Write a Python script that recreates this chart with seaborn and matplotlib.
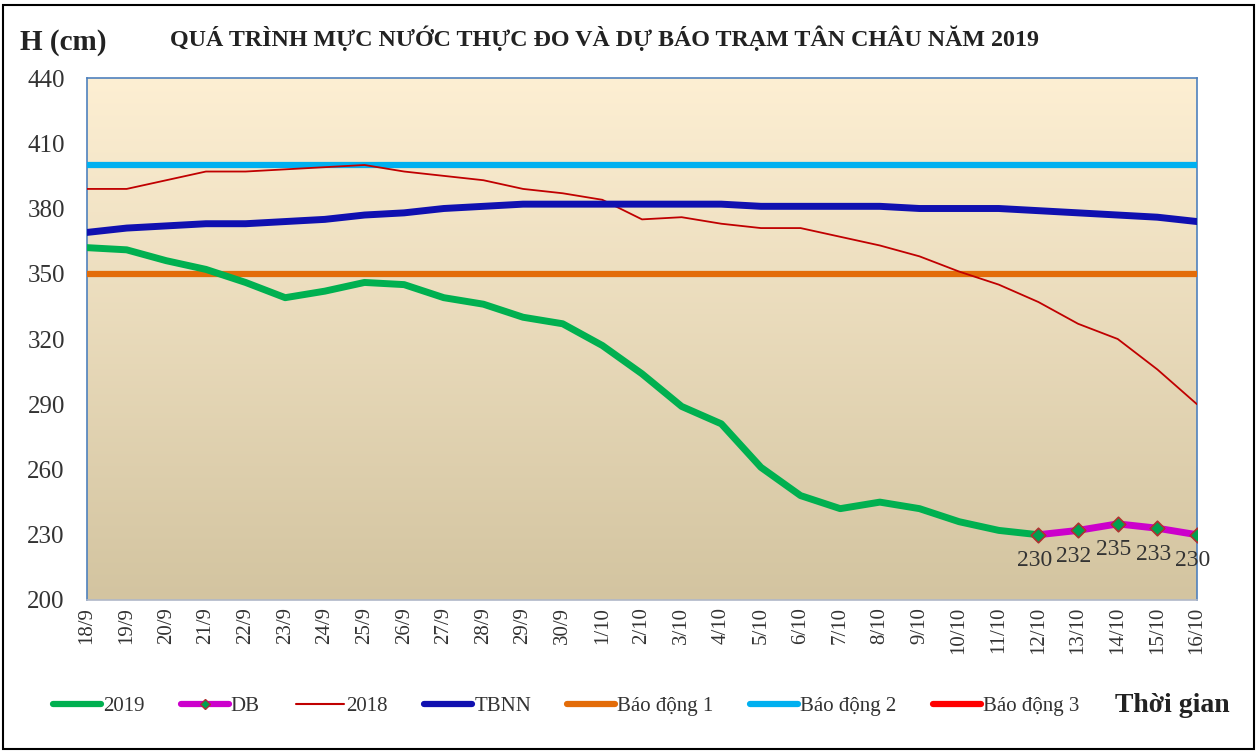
import numpy as np
import pandas as pd
import matplotlib
matplotlib.use("Agg")
import matplotlib.pyplot as plt
import seaborn as sns
from matplotlib.lines import Line2D
from matplotlib.patches import Rectangle

sns.set_theme(style="white")
plt.rcParams['font.family'] = ['Liberation Serif', 'DejaVu Serif']

dates = ["18/9", "19/9", "20/9", "21/9", "22/9", "23/9", "24/9", "25/9", "26/9", "27/9",
         "28/9", "29/9", "30/9", "1/10", "2/10", "3/10", "4/10", "5/10", "6/10", "7/10",
         "8/10", "9/10", "10/10", "11/10", "12/10", "13/10", "14/10", "15/10", "16/10"]
h2019 = [362, 361, 356, 352, 346, 339, 342, 346, 345, 339, 336, 330, 327, 317, 304, 289,
         281, 261, 248, 242, 245, 242, 236, 232, 230]
db_dates = ["12/10", "13/10", "14/10", "15/10", "16/10"]
db_vals = [230, 232, 235, 233, 230]
h2018 = [389, 389, 393, 397, 397, 398, 399, 400, 397, 395, 393, 389, 387, 384, 375, 376,
         373, 371, 371, 367, 363, 358, 351, 345, 337, 327, 320, 306, 290]
tbnn = [369, 371, 372, 373, 373, 374, 375, 377, 378, 380, 381, 382, 382, 382, 382, 382,
        382, 381, 381, 381, 381, 380, 380, 380, 379, 378, 377, 376, 374]
bd1 = [350] * len(dates)
bd2 = [400] * len(dates)
bd3 = [450] * len(dates)

pos = {d: i for i, d in enumerate(dates)}

fig = plt.figure(figsize=(12.59, 7.52), dpi=100)
ax = fig.add_axes([87/1259, 1-600/752, (1197-87)/1259, (600-78)/752])

# gradient background
grad = np.linspace(0, 1, 256).reshape(-1, 1)
top = np.array([253, 239, 211]) / 255
bot = np.array([211, 196, 160]) / 255
img = top[None, None, :] * (1 - grad[:, :, None]) + bot[None, None, :] * grad[:, :, None]
ax.imshow(img, extent=[0, len(dates) - 1, 200, 440], aspect='auto', zorder=0, origin='upper')

def draw(xs, ys, color, lw, label, z):
    df = pd.DataFrame({"x": [pos[d] for d in xs], "y": ys})
    sns.lineplot(data=df, x="x", y="y", ax=ax, color=color, linewidth=lw, label=label,
                 zorder=z, solid_capstyle='round', solid_joinstyle='round', legend=False)

draw(dates[:len(h2019)], h2019, "#00B050", 5, "2019", 5)
draw(dates, h2018, "#C00000", 1.3, "2018", 4)
draw(dates, tbnn, "#1010B0", 5, "TBNN", 4)
draw(dates, bd1, "#E36C09", 4.5, "Báo động 1", 3)
draw(dates, bd2, "#00B0F0", 4.5, "Báo động 2", 3)
draw(dates, bd3, "#FF0000", 4.5, "Báo động 3", 3)

dbdf = pd.DataFrame({"x": [pos[d] for d in db_dates], "y": db_vals})
sns.lineplot(data=dbdf, x="x", y="y", ax=ax, color="#CC00CC", linewidth=5, zorder=6,
             legend=False, solid_capstyle='round')
sns.scatterplot(data=dbdf, x="x", y="y", ax=ax, marker="D", s=55, color="#00A050",
                edgecolor="#B03030", linewidth=1.2, zorder=7, legend=False)
for x, y in zip(dbdf["x"], dbdf["y"]):
    ax.annotate(str(y), (x, y), xytext=(-3, -11), textcoords='offset points',
                ha='center', va='top', fontsize=17, color="#333333", zorder=8,
                annotation_clip=False)

ax.set_xlim(0, len(dates) - 1)
ax.set_ylim(200, 440)
ax.set_yticks(range(200, 441, 30))
ax.set_xticks(range(len(dates)))
ax.set_xticklabels(dates, rotation=90, fontsize=15, color="#333333")
ax.tick_params(axis='y', labelsize=18, labelcolor="#333333", length=0, pad=16)
ax.tick_params(axis='x', length=0, pad=5)
ax.set_xlabel("")
ax.set_ylabel("")
for s in ["left", "right", "top"]:
    ax.spines[s].set_color("#4F81BD")
    ax.spines[s].set_linewidth(1.2)
ax.spines["bottom"].set_color("#B0B8C8")
ax.spines["bottom"].set_linewidth(1.2)

fig.text(20/1259, 1-42/752, "H (cm)", fontsize=21, fontweight='bold', va='center', ha='left', color="#222222")
fig.text(605/1259, 1-38/752, "QUÁ TRÌNH MỰC NƯỚC THỰC ĐO VÀ DỰ BÁO TRẠM TÂN CHÂU NĂM 2019",
         fontsize=17.3, fontweight='bold', va='center', ha='center', color="#222222")
fig.text(1172/1259, 1-705/752, "Thời gian", fontsize=20, fontweight='bold', va='center', ha='center', color="#222222")

handles = [
    Line2D([], [], color="#00B050", lw=4.5),
    Line2D([], [], color="#CC00CC", lw=4.5, marker="D", markersize=5, markerfacecolor="#00A050", markeredgecolor="#B03030"),
    Line2D([], [], color="#C00000", lw=1.5),
    Line2D([], [], color="#1010B0", lw=4.5),
    Line2D([], [], color="#E36C09", lw=4.5),
    Line2D([], [], color="#00B0F0", lw=4.5),
    Line2D([], [], color="#FF0000", lw=4.5),
]
labels = ["2019", "DB", "2018", "TBNN", "Báo động 1", "Báo động 2", "Báo động 3"]
fig.legend(handles, labels, loc='center', bbox_to_anchor=(566/1259, 1-706/752), ncol=7,
           frameon=False, fontsize=15, handlelength=2.3, handletextpad=0.1, columnspacing=1.75,
           labelcolor="#333333")

fig.patches.append(Rectangle((3/1259, 3/752), 1-8/1259, 1-8/752, transform=fig.transFigure,
                             fill=False, edgecolor="black", linewidth=1.5))

fig.savefig("out.png", dpi=100)
